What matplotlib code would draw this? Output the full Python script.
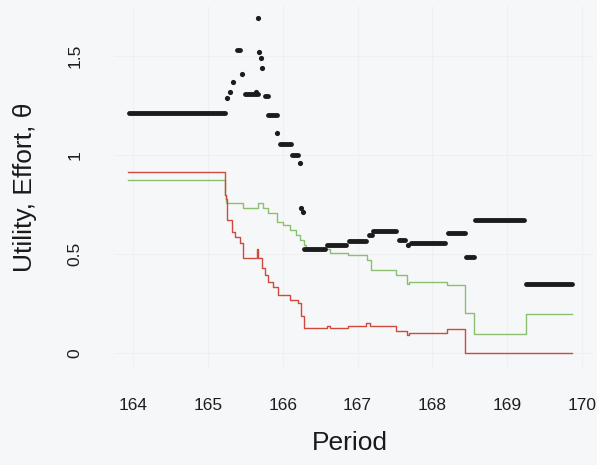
import matplotlib
matplotlib.use("Agg")
import matplotlib.pyplot as plt

# ---- data ----
red_x = [163.93, 165.227, 165.24, 165.253, 165.32, 165.36, 165.427, 165.467, 165.653, 165.667,
         165.72, 165.76, 165.80, 165.867, 165.933, 166.093, 166.20, 166.24, 166.28, 166.587,
         166.627, 166.867, 167.12, 167.173, 167.52, 167.667, 167.693, 168.20, 168.44, 169.867]
red_y = [0.914, 0.80, 0.78, 0.67, 0.61, 0.586, 0.555, 0.48, 0.525, 0.48,
         0.43, 0.394, 0.36, 0.333, 0.293, 0.27, 0.25, 0.185, 0.126, 0.136,
         0.128, 0.136, 0.152, 0.136, 0.11, 0.09, 0.10, 0.123, 0.0, 0.0]

green_x = [163.93, 165.227, 165.24, 165.467, 165.667, 165.733, 165.80, 165.92, 166.0, 166.093,
           166.173, 166.227, 166.28, 166.307, 166.627, 166.867, 167.133, 167.187, 167.52, 167.667,
           167.693, 168.20, 168.44, 168.56, 169.253, 169.867]
green_y = [0.876, 0.80, 0.757, 0.73, 0.757, 0.73, 0.707, 0.66, 0.645, 0.62,
           0.596, 0.57, 0.545, 0.525, 0.505, 0.497, 0.468, 0.42, 0.392, 0.35,
           0.36, 0.343, 0.2, 0.096, 0.197, 0.197]

seg_x0 = [163.95, 165.39, 165.49, 165.77, 165.81, 165.96, 166.12, 166.29, 166.59, 166.88,
          167.15, 167.21, 167.55, 167.71, 168.21, 168.45, 168.57, 169.25]
seg_x1 = [165.23, 165.43, 165.67, 165.80, 165.92, 166.11, 166.20, 166.56, 166.84, 167.11,
          167.19, 167.51, 167.63, 168.17, 168.43, 168.56, 169.23, 169.87]
seg_y = [1.21, 1.53, 1.31, 1.30, 1.20, 1.055, 1.00, 0.525, 0.545, 0.565,
         0.596, 0.616, 0.57, 0.555, 0.606, 0.485, 0.67, 0.35]

dot_x = [165.25, 165.29, 165.33, 165.45, 165.65, 165.67, 165.68, 165.71, 165.73, 165.93,
         166.23, 166.25, 166.27, 167.67]
dot_y = [1.29, 1.32, 1.37, 1.41, 1.32, 1.69, 1.52, 1.49, 1.44, 1.11,
         0.96, 0.73, 0.71, 0.545]

x_ticks = [164, 165, 166, 167, 168, 169, 170]
y_ticks = [0, 0.5, 1, 1.5]
y_tick_labels = ["0", "0.5", "1", "1.5"]

# ---- figure ----
plt.rcParams['font.family'] = ['Liberation Sans', 'DejaVu Sans']
W, H = 597, 465
bg = '#f6f7f9'
fig = plt.figure(figsize=(W / 100, H / 100), dpi=100, facecolor=bg)

xlim = (163.75, 170.15)
ylim = (-0.08, 1.75)
px_per_x = 74.83
px_per_y = 198.0
left_px = 133 - (164 - xlim[0]) * px_per_x
right_px = 582 + (xlim[1] - 170) * px_per_x
bottom_px = 353 + (0 - ylim[0]) * px_per_y
top_px = 353 - ylim[1] * px_per_y
ax = fig.add_axes([left_px / W, 1 - bottom_px / H,
                   (right_px - left_px) / W, (bottom_px - top_px) / H])
ax.set_facecolor(bg)
ax.set_xlim(*xlim)
ax.set_ylim(*ylim)

for s in ax.spines.values():
    s.set_visible(False)

ax.set_xticks(x_ticks)
ax.set_yticks(y_ticks)
ax.set_yticklabels(y_tick_labels, rotation=90, va='center')
ax.tick_params(length=0, labelsize=12.5, colors='#1e1e1e')
ax.tick_params(axis='x', pad=21)
ax.tick_params(axis='y', pad=23)
ax.grid(True, color='#eff0f2', linewidth=0.8)
ax.set_axisbelow(True)

ax.plot(green_x, green_y, drawstyle='steps-post', color='#8cbf72', lw=1.0)
ax.plot(red_x, red_y, drawstyle='steps-post', color='#cf4a3c', lw=1.0)

lc = ax.hlines(seg_y, seg_x0, seg_x1, colors='#1c1c1c', linewidth=3.5)
lc.set_capstyle('round')
ax.scatter(dot_x, dot_y, s=14, color='#1c1c1c', linewidths=0, zorder=3)

fig.text(350 / W, 1 - 443 / H, "Period", ha='center', va='center',
         fontsize=19, color='#1a1a1a')
fig.text(25 / W, 1 - 187 / H, "Utility, Effort, θ", ha='center', va='center',
         rotation=90, fontsize=19, color='#1a1a1a')

fig.savefig("out.png", dpi=100, facecolor=bg)
